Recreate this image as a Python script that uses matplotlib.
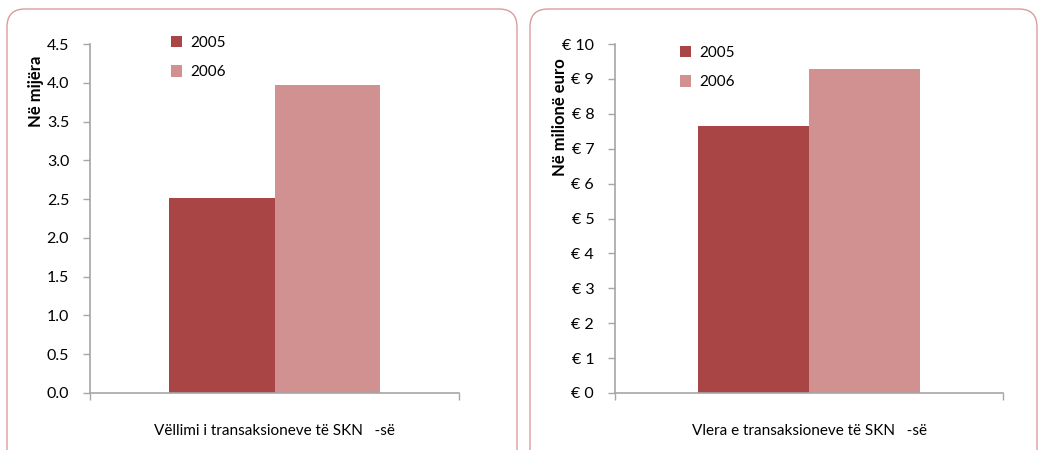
import matplotlib.pyplot as plt
from matplotlib.patches import FancyBboxPatch
from matplotlib.transforms import IdentityTransform
from matplotlib.ticker import FuncFormatter

plt.rcParams['font.family'] = ['Lato', 'DejaVu Sans']

years = ['2005', '2006']
volume = [2.51, 3.97]      # në mijëra
value = [7.65, 9.28]       # në milionë euro
colors = ['#A94545', '#D19191']

W, H = 1041, 450
fig = plt.figure(figsize=(W / 100, H / 100), dpi=100)

def px(x0, y0, x1, y1):
    return [x0 / W, 1 - y1 / H, (x1 - x0) / W, (y1 - y0) / H]

# rounded panel borders (pixel coords, bottom cut off)
for x0, x1 in [(7, 517), (530, 1037)]:
    box = FancyBboxPatch((x0, -40), x1 - x0, H - 9 + 40,
                         boxstyle='round,pad=0,rounding_size=18',
                         transform=IdentityTransform(), fill=False,
                         edgecolor='#D99C9C', linewidth=1.0)
    fig.patches.append(box)

def panel(rect, data, ymax, step, fmt, ylabel, xlabel, leg_xy):
    ax = fig.add_axes(px(*rect))
    w = 0.286
    for i, (yr, v) in enumerate(zip(years, data)):
        ax.bar((i - 0.5) * w, v, width=w, color=colors[i], label=yr)
    ax.set_xlim(-0.5, 0.5)
    ax.set_ylim(0, ymax)
    ax.set_yticks([k * step for k in range(int(round(ymax / step)) + 1)])
    ax.yaxis.set_major_formatter(FuncFormatter(fmt))
    ax.set_xticks([-0.5, 0.5])
    ax.set_xticklabels(['', ''])
    for s in ['top', 'right']:
        ax.spines[s].set_visible(False)
    for s in ['left', 'bottom']:
        ax.spines[s].set_color('#A6A6A6')
        ax.spines[s].set_linewidth(1.2)
    ax.tick_params(axis='both', colors='#A6A6A6', length=5, width=1.0,
                   labelcolor='black', labelsize=11.5)
    ax.tick_params(axis='y', pad=10)
    ax.set_ylabel(ylabel, fontsize=12, fontweight='bold', labelpad=2)
    ax.set_xlabel(xlabel, fontsize=11, labelpad=14)
    ax.legend(loc='upper left', bbox_to_anchor=(leg_xy[0] / W, 1 - leg_xy[1] / H),
              bbox_transform=fig.transFigure, frameon=False, fontsize=11,
              handlelength=0.75, handleheight=0.75, handletextpad=0.5,
              labelspacing=1.0, borderpad=0, borderaxespad=0)
    return ax

ax1 = panel((90, 44, 459, 393), volume, 4.5, 0.5, lambda v, p: f'{v:.1f}',
            'Në mijëra', 'Vëllimi i transaksioneve të SKN   -së', (171, 36))
ax1.yaxis.set_label_coords(-0.125, 0.865)

ax2 = panel((615, 44, 1003, 393), value, 10, 1, lambda v, p: f'€ {v:.0f}',
            'Në milionë euro', 'Vlera e transaksioneve të SKN   -së', (680, 46))
ax2.yaxis.set_label_coords(-0.12, 0.79)

fig.savefig('out.png', dpi=100)
